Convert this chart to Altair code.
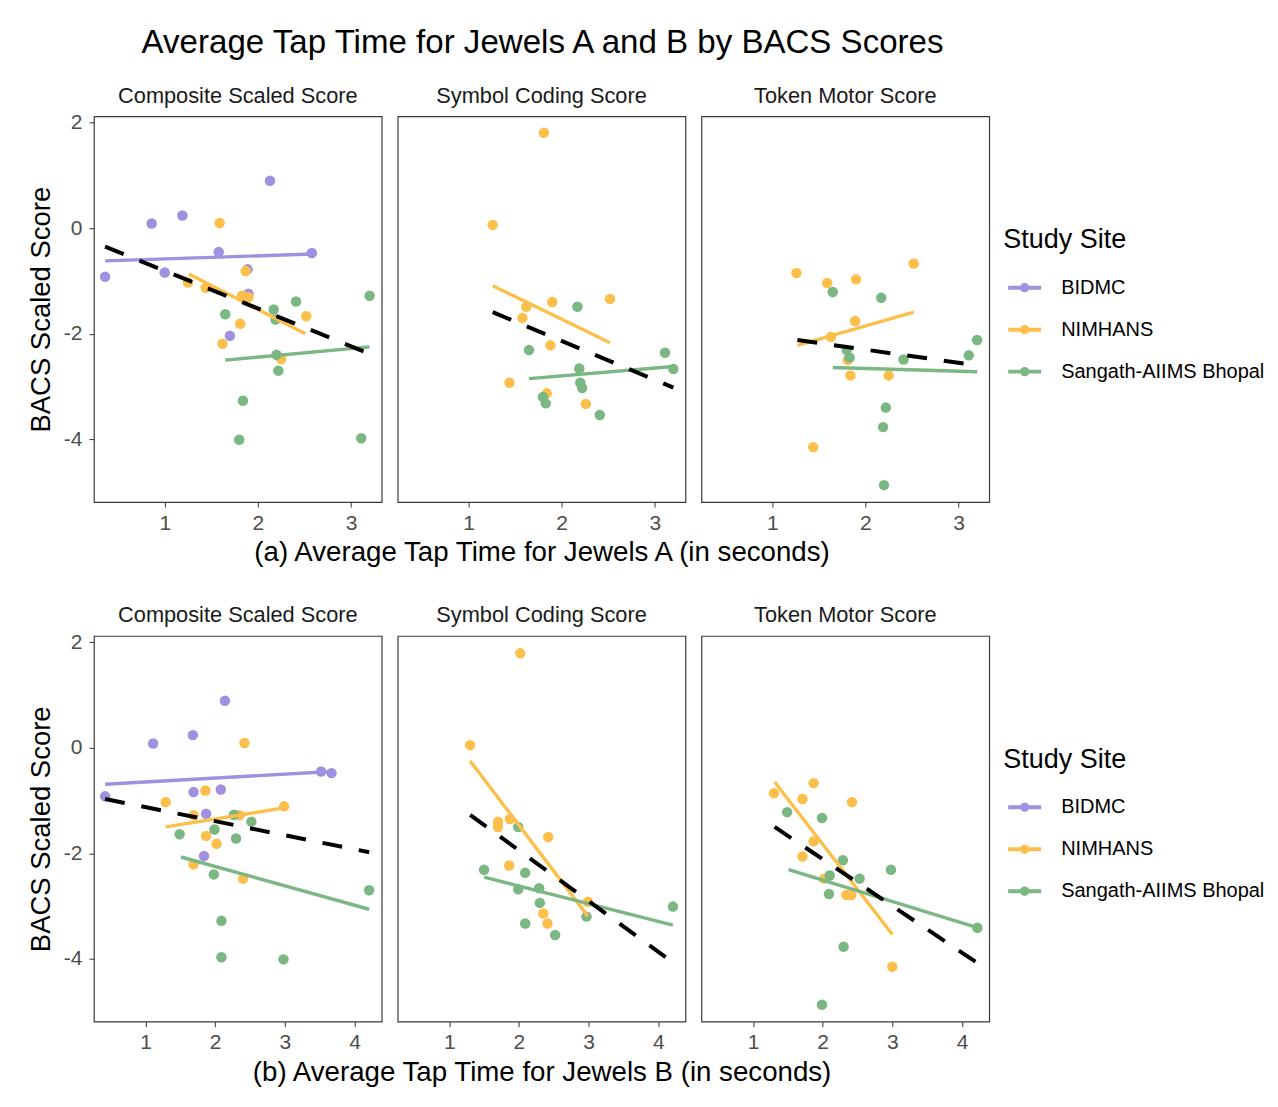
import altair as alt
import pandas as pd

FONT = "Liberation Sans"
SITES = ["BIDMC", "NIMHANS", "Sangath-AIIMS Bhopal"]
COLORS = ["#A090E0", "#FDBF4B", "#7BB783"]
PANELS = ["Composite Scaled Score", "Symbol Coding Score", "Token Motor Score"]

# ---------------- Row (a): Jewels A ----------------
a_comp_bidmc_x = [0.36, 0.86, 1.19, 1.00, 1.58, 1.89, 1.90, 1.70, 2.13, 2.58]
a_comp_bidmc_y = [-0.92, 0.09, 0.24, -0.84, -0.45, -0.78, -1.24, -2.04, 0.90, -0.47]
a_comp_nim_x = [1.59, 1.25, 1.44, 1.87, 1.83, 1.90, 1.81, 1.62, 2.52, 2.25]
a_comp_nim_y = [0.10, -1.03, -1.13, -0.81, -1.28, -1.31, -1.81, -2.19, -1.67, -2.48]
a_comp_san_x = [1.65, 2.17, 2.19, 2.41, 3.20, 2.20, 2.22, 1.84, 1.80, 3.11]
a_comp_san_y = [-1.63, -1.54, -1.73, -1.39, -1.28, -2.40, -2.70, -3.27, -4.01, -3.98]

a_sym_nim_x = [1.81, 1.26, 1.90, 1.62, 1.58, 2.52, 1.88, 1.44, 1.84, 2.26]
a_sym_nim_y = [1.81, 0.06, -1.40, -1.49, -1.70, -1.34, -2.22, -2.93, -3.13, -3.33]
a_sym_san_x = [2.17, 1.65, 3.11, 3.20, 2.19, 2.20, 2.22, 1.80, 1.83, 2.41]
a_sym_san_y = [-1.49, -2.31, -2.36, -2.67, -2.66, -2.93, -3.03, -3.20, -3.32, -3.54]

a_tok_nim_x = [1.26, 1.59, 1.90, 2.52, 1.89, 1.63, 1.81, 1.84, 2.25, 1.44]
a_tok_nim_y = [-0.85, -1.04, -0.97, -0.67, -1.76, -2.06, -2.50, -2.79, -2.79, -4.15]
a_tok_san_x = [1.65, 2.17, 3.20, 3.11, 2.41, 1.80, 1.83, 2.22, 2.19, 2.20]
a_tok_san_y = [-1.21, -1.32, -2.12, -2.41, -2.49, -2.31, -2.45, -3.40, -3.77, -4.87]

# ---------------- Row (b): Jewels B ----------------
b_comp_bidmc_x = [0.42, 1.11, 1.68, 2.14, 1.69, 2.08, 1.87, 1.84, 3.52, 3.67]
b_comp_bidmc_y = [-0.92, 0.08, 0.24, 0.89, -0.84, -0.79, -1.25, -2.05, -0.45, -0.48]
b_comp_nim_x = [2.42, 1.29, 1.86, 2.99, 2.35, 1.69, 1.87, 2.02, 1.69, 2.40]
b_comp_nim_y = [0.09, -1.03, -0.81, -1.11, -1.28, -1.28, -1.67, -1.82, -2.21, -2.48]
b_comp_san_x = [2.27, 2.52, 1.49, 1.99, 2.30, 1.98, 4.21, 2.09, 2.09, 2.98]
b_comp_san_y = [-1.27, -1.40, -1.64, -1.55, -1.72, -2.40, -2.70, -3.28, -3.97, -4.01]

b_sym_nim_x = [2.02, 1.30, 1.70, 1.70, 1.87, 2.42, 1.86, 2.99, 2.35, 2.41]
b_sym_nim_y = [1.79, 0.05, -1.40, -1.50, -1.35, -1.69, -2.23, -2.92, -3.14, -3.33]
b_sym_san_x = [1.99, 1.50, 2.09, 2.29, 1.99, 2.30, 2.97, 2.09, 2.52, 4.21]
b_sym_san_y = [-1.50, -2.31, -2.37, -2.66, -2.68, -2.94, -3.20, -3.33, -3.55, -3.01]

b_tok_nim_x = [1.30, 1.87, 1.71, 2.42, 1.87, 1.71, 2.02, 2.34, 2.41, 3.00]
b_tok_nim_y = [-0.86, -0.67, -0.97, -1.03, -1.77, -2.06, -2.48, -2.79, -2.79, -4.15]
b_tok_san_x = [1.49, 1.99, 2.29, 2.98, 2.10, 2.53, 2.09, 4.22, 2.30, 1.99]
b_tok_san_y = [-1.22, -1.33, -2.13, -2.31, -2.42, -2.48, -2.77, -3.41, -3.77, -4.87]

# ---------------- Fitted lines (endpoints) ----------------
fit_rows = ["A", "A", "A", "A", "A", "A", "A", "A", "A", "A",
            "B", "B", "B", "B", "B", "B", "B", "B", "B", "B"]
fit_panels = [PANELS[0], PANELS[0], PANELS[0], PANELS[0],
              PANELS[1], PANELS[1], PANELS[1],
              PANELS[2], PANELS[2], PANELS[2],
              PANELS[0], PANELS[0], PANELS[0], PANELS[0],
              PANELS[1], PANELS[1], PANELS[1],
              PANELS[2], PANELS[2], PANELS[2]]
fit_sites = ["BIDMC", "NIMHANS", "Sangath-AIIMS Bhopal", "Overall",
             "NIMHANS", "Sangath-AIIMS Bhopal", "Overall",
             "NIMHANS", "Sangath-AIIMS Bhopal", "Overall",
             "BIDMC", "NIMHANS", "Sangath-AIIMS Bhopal", "Overall",
             "NIMHANS", "Sangath-AIIMS Bhopal", "Overall",
             "NIMHANS", "Sangath-AIIMS Bhopal", "Overall"]
fit_x0 = [0.36, 1.26, 1.65, 0.36, 1.26, 1.65, 1.26, 1.27, 1.65, 1.27,
          0.42, 1.29, 1.51, 0.42, 1.30, 1.50, 1.30, 1.31, 1.51, 1.31]
fit_y0 = [-0.62, -0.87, -2.50, -0.35, -1.09, -2.85, -1.59, -2.22, -2.64, -2.12,
          -0.69, -1.50, -2.07, -0.97, -0.25, -2.45, -1.27, -0.65, -2.31, -1.50]
fit_x1 = [2.58, 2.51, 3.20, 3.20, 2.52, 3.20, 3.20, 2.52, 3.20, 3.20,
          3.67, 2.99, 4.21, 4.21, 2.99, 4.21, 4.21, 3.00, 4.22, 4.21]
fit_y1 = [-0.49, -2.00, -2.25, -2.38, -2.17, -2.62, -3.02, -1.59, -2.72, -2.60,
          -0.45, -1.14, -3.06, -1.98, -3.19, -3.36, -4.07, -3.54, -3.41, -4.07]

X_TITLES = {"A": "(a) Average Tap Time for Jewels A (in seconds)",
            "B": "(b) Average Tap Time for Jewels B (in seconds)"}
X_DOMAINS = {"A": [0.24, 3.33], "B": [0.26, 4.39]}
X_TICKS = {"A": [1, 2, 3], "B": [1, 2, 3, 4]}
Y_TICKS = [-4, -2, 0, 2]
Y_DOMAIN = [-5.19, 2.12]

point_sets = [
    ("A", PANELS[0], "BIDMC", a_comp_bidmc_x, a_comp_bidmc_y),
    ("A", PANELS[0], "NIMHANS", a_comp_nim_x, a_comp_nim_y),
    ("A", PANELS[0], "Sangath-AIIMS Bhopal", a_comp_san_x, a_comp_san_y),
    ("A", PANELS[1], "NIMHANS", a_sym_nim_x, a_sym_nim_y),
    ("A", PANELS[1], "Sangath-AIIMS Bhopal", a_sym_san_x, a_sym_san_y),
    ("A", PANELS[2], "NIMHANS", a_tok_nim_x, a_tok_nim_y),
    ("A", PANELS[2], "Sangath-AIIMS Bhopal", a_tok_san_x, a_tok_san_y),
    ("B", PANELS[0], "BIDMC", b_comp_bidmc_x, b_comp_bidmc_y),
    ("B", PANELS[0], "NIMHANS", b_comp_nim_x, b_comp_nim_y),
    ("B", PANELS[0], "Sangath-AIIMS Bhopal", b_comp_san_x, b_comp_san_y),
    ("B", PANELS[1], "NIMHANS", b_sym_nim_x, b_sym_nim_y),
    ("B", PANELS[1], "Sangath-AIIMS Bhopal", b_sym_san_x, b_sym_san_y),
    ("B", PANELS[2], "NIMHANS", b_tok_nim_x, b_tok_nim_y),
    ("B", PANELS[2], "Sangath-AIIMS Bhopal", b_tok_san_x, b_tok_san_y),
]
rows = []
for r, p, s, xs, ys in point_sets:
    for xv, yv in zip(xs, ys):
        rows.append({"row": r, "panel": p, "site": s, "x": xv, "y": yv})
pts = pd.DataFrame(rows)

lrows = []
for r, p, s, x0, y0, x1, y1 in zip(fit_rows, fit_panels, fit_sites, fit_x0, fit_y0, fit_x1, fit_y1):
    lrows.append({"row": r, "panel": p, "site": s, "x": x0, "y": y0})
    lrows.append({"row": r, "panel": p, "site": s, "x": x1, "y": y1})
fits = pd.DataFrame(lrows)

SYMBOL = ("M-1,-0.12H1V0.12H-1Z "
          "M-0.28,0A0.28,0.28 0 1,1 0.28,0A0.28,0.28 0 1,1 -0.28,0Z")

legend = alt.Legend(
    title="Study Site", orient="none", legendX=910, legendY=111,
    symbolType=SYMBOL, symbolSize=1089, symbolStrokeWidth=0, symbolOpacity=1,
    symbolOffset=5,
    titleFontSize=27, titleFont=FONT, titleFontWeight="normal", titleColor="black",
    labelFontSize=20, labelFont=FONT, labelColor="black", labelLimit=0,
    labelOffset=20, rowPadding=15, titlePadding=17,
)
color_scale = alt.Scale(domain=SITES, range=COLORS)

W, H = 288, 386


def panel(row, pname, first, middle):
    xaxis = alt.Axis(values=X_TICKS[row], title=X_TITLES[row] if middle else None,
                     titleFontSize=27.7, titleFont=FONT, titleFontWeight="normal",
                     titleColor="black", titlePadding=6,
                     labelFontSize=21, labelFont=FONT, labelColor="#4D4D4D",
                     labelPadding=5, tickColor="#333333", tickSize=5, domain=False,
                     grid=False, labelExpr="'' + datum.value")
    if first:
        yaxis = alt.Axis(values=Y_TICKS, title="BACS Scaled Score",
                         titleFontSize=27.5, titleFont=FONT, titleFontWeight="normal",
                         titleColor="black", titlePadding=8,
                         labelFontSize=21, labelFont=FONT, labelColor="#4D4D4D",
                         labelPadding=7, tickColor="#333333", tickSize=5, domain=False,
                         grid=False, labelExpr="'' + datum.value")
    else:
        yaxis = None
    x = alt.X("x:Q", scale=alt.Scale(domain=X_DOMAINS[row], nice=False, zero=False), axis=xaxis)
    y = alt.Y("y:Q", scale=alt.Scale(domain=Y_DOMAIN, nice=False, zero=False), axis=yaxis)
    p_df = pts[(pts["row"] == row) & (pts["panel"] == pname)]
    f_df = fits[(fits["row"] == row) & (fits["panel"] == pname) & (fits["site"] != "Overall")]
    o_df = fits[(fits["row"] == row) & (fits["panel"] == pname) & (fits["site"] == "Overall")]
    color = alt.Color("site:N", scale=color_scale, legend=legend)
    points = alt.Chart(p_df).mark_circle(size=110, opacity=1).encode(x=x, y=y, color=color)
    lines = alt.Chart(f_df).mark_line(strokeWidth=3.4).encode(x=x, y=y, color=color)
    overall = alt.Chart(o_df).mark_line(strokeWidth=4, color="black",
                                        strokeDash=[20, 17]).encode(x=x, y=y)
    # the first panel's "2" tick label reaches above the frame, so its title needs less offset
    return alt.layer(points, lines, overall).properties(
        width=W, height=H,
        title=alt.TitleParams(pname, fontSize=21.8, font=FONT, fontWeight="normal",
                              color="#1A1A1A", offset=4 if first else 9,
                              anchor="middle", frame="group"))


def row_chart(row):
    return alt.hconcat(
        panel(row, PANELS[0], True, False),
        panel(row, PANELS[1], False, True),
        panel(row, PANELS[2], False, False),
        spacing=16, bounds="flush",
    ).resolve_scale(color="shared")


chart = alt.vconcat(row_chart("A"), row_chart("B"), spacing=36).resolve_scale(
    color="independent"
).properties(
    title=alt.TitleParams("Average Tap Time for Jewels A and B by BACS Scores",
                          fontSize=33.1, font=FONT, fontWeight="normal", color="black",
                          anchor="start", dx=115, offset=25),
    padding={"left": 18, "top": 18, "right": 5, "bottom": 5},
    background="white",
).configure_view(stroke="#3A3A3A", strokeWidth=1.2)

chart.save("out.html", embed_options={"renderer": "svg", "actions": False})
